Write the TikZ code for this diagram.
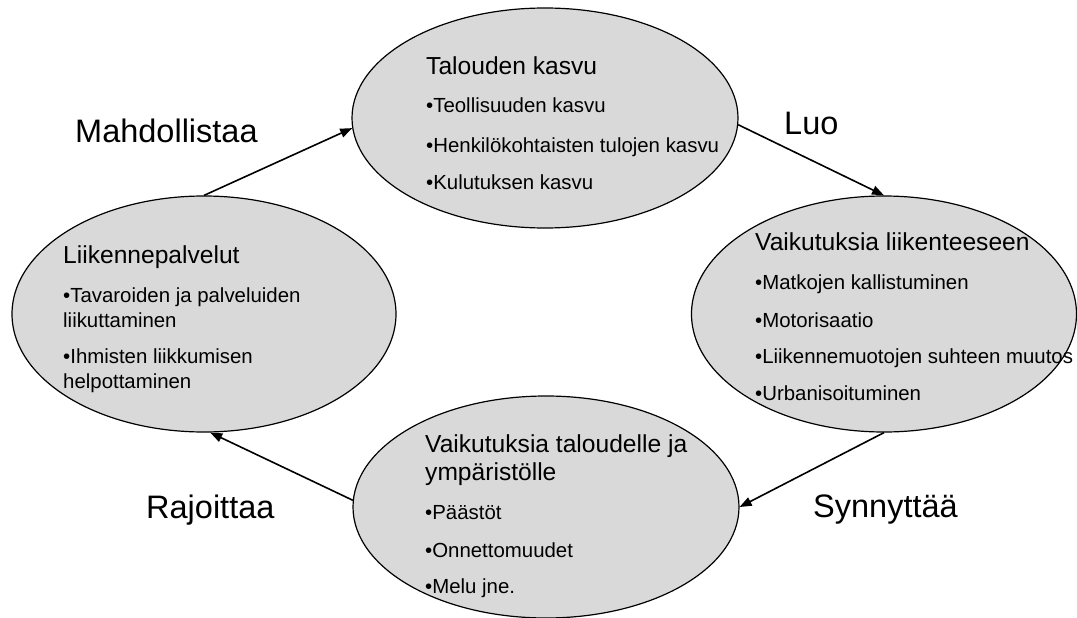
\documentclass[tikz,border=0pt]{standalone}
\usepackage{fontspec}
\setmainfont{Liberation Sans}
\usetikzlibrary{shapes.geometric,arrows.meta}

\definecolor{bubblegray}{RGB}{217,217,217}
\tikzset{
    bubble/.style={ellipse,draw=black,line width=1.2pt,fill=bubblegray,inner sep=0pt},
    link/.style={line width=1.6pt,-{Triangle[length=12pt,width=9pt]}},
    ttl/.style={anchor=base west,inner sep=0pt,font=\fontsize{24.6}{24.6}\selectfont},
    itm/.style={anchor=base west,inner sep=0pt,font=\fontsize{20.4}{20.4}\selectfont},
    verb/.style={anchor=base west,inner sep=0pt,font=\fontsize{32.5}{32.5}\selectfont},
}

\begin{document}
\begin{tikzpicture}[x=1pt,y=-1pt]
        \useasboundingbox (0,0) rectangle (1077,618);
        %% the four ellipses
        \node[bubble,minimum width=386pt,minimum height=220pt] (growth)   at (545,118) {};
        \node[bubble,minimum width=385pt,minimum height=236pt] (effects)  at (884,314) {};
        \node[bubble,minimum width=384pt,minimum height=236pt] (services) at (204,314) {};
        \node[bubble,minimum width=386pt,minimum height=222pt] (impacts)  at (546,507) {};
        %% Talouden kasvu
        \node[ttl] (g0) at (426,75)  {Talouden kasvu};
        \node[itm] (g1) at (426,113) {•Teollisuuden kasvu};
        \node[itm] (g2) at (426,152) {•Henkilökohtaisten tulojen kasvu};
        \node[itm] (g3) at (426,189) {•Kulutuksen kasvu};
        %% Vaikutuksia liikenteeseen
        \node[ttl] (e0) at (755,250) {Vaikutuksia liikenteeseen};
        \node[itm] (e1) at (755,289) {•Matkojen kallistuminen};
        \node[itm] (e2) at (755,327) {•Motorisaatio};
        \node[itm] (e3) at (755,363) {•Liikennemuotojen suhteen muutos};
        \node[itm] (e4) at (755,400) {•Urbanisoituminen};
        %% Liikennepalvelut
        \node[ttl] (s0) at (63,263) {Liikennepalvelut};
        \node[itm] (s1) at (63,302) {•Tavaroiden ja palveluiden};
        \node[itm] (s2) at (63,327) {liikuttaminen};
        \node[itm] (s3) at (63,363) {•Ihmisten liikkumisen};
        \node[itm] (s4) at (63,388) {helpottaminen};
        %% Vaikutuksia taloudelle ja ympäristölle
        \node[ttl] (i0) at (425,452) {Vaikutuksia taloudelle ja};
        \node[ttl] (i1) at (425,480) {ympäristölle};
        \node[itm] (i2) at (425,519) {•Päästöt};
        \node[itm] (i3) at (425,557) {•Onnettomuudet};
        \node[itm] (i4) at (425,593) {•Melu jne.};
        %% arrows round the cycle
        \draw[link] (services.north) -- (growth.183);
        \draw[link] (growth.-2) -- (effects.north);
        \draw[link] (effects.south) -- (impacts.east);
        \draw[link] (impacts.178) -- (services.-87);
        %% arrow labels
        \node[verb] (lblMah) at (75,142)  {Mahdollistaa};
        \node[verb] (lblLuo) at (784,134) {Luo};
        \node[verb] (lblSyn) at (813,517) {Synnyttää};
        \node[verb] (lblRaj) at (146,518) {Rajoittaa};
\end{tikzpicture}
\end{document}
